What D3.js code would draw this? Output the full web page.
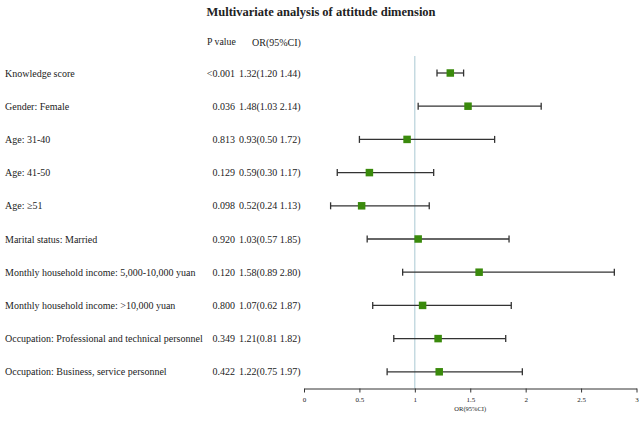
<!DOCTYPE html>
<html>
<head>
<meta charset="utf-8">
<script src="https://cdn.jsdelivr.net/npm/d3@7"></script>
<style>
  body { margin: 0; background: #fff; }
  text { font-family: "Liberation Serif", "Times New Roman", serif; fill: #222; }
</style>
</head>
<body>
<svg id="chart" width="642" height="422"></svg>
<script>
// 变量及结果
const labels = [
  'Knowledge score',
  'Gender: Female',
  'Age: 31-40',
  'Age: 41-50',
  'Age: \u226551',
  'Marital status: Married',
  'Monthly household income: 5,000-10,000 yuan',
  'Monthly household income: >10,000 yuan',
  'Occupation: Professional and technical personnel',
  'Occupation: Business, service personnel'
];
const pValues = ['<0.001', '0.036', '0.813', '0.129', '0.098', '0.920', '0.120', '0.800', '0.349', '0.422'];
const orValues = [1.32, 1.48, 0.93, 0.59, 0.52, 1.03, 1.58, 1.07, 1.21, 1.22];
const lowerCI = [1.20, 1.03, 0.50, 0.30, 0.24, 0.57, 0.89, 0.62, 0.81, 0.75];
const upperCI = [1.44, 2.14, 1.72, 1.17, 1.13, 1.85, 2.80, 1.87, 1.82, 1.97];
const xTicks = [0, 0.5, 1, 1.5, 2, 2.5, 3];

const rows = labels.map((label, i) => ({
  label, p: pValues[i], or: orValues[i], lo: lowerCI[i], hi: upperCI[i]
}));

const svg = d3.select('#chart');

const x = d3.scaleLinear().domain([0, 3]).range([304, 636.5]);
const y = d3.scalePoint().domain(labels).range([73, 371.8]);
const axisY = 388.5;
const fmt = d3.format('.2f');

// 标题
svg.append('text')
  .attr('x', 321).attr('y', 15.5)
  .attr('text-anchor', 'middle')
  .style('font-size', '12.5px')
  .style('font-weight', 'bold')
  .text('Multivariate analysis of attitude dimension');

// 表头
svg.append('text').attr('x', 207).attr('y', 42).attr('dy', '0.35em')
  .style('font-size', '9.8px').text('P value');
svg.append('text').attr('x', 252).attr('y', 42).attr('dy', '0.35em')
  .style('font-size', '10px').text('OR(95%CI)');

// 参考线 OR = 1
svg.append('line')
  .attr('x1', x(1)).attr('x2', x(1))
  .attr('y1', 56).attr('y2', axisY)
  .attr('stroke', '#a9c8d2').attr('stroke-width', 1);

const row = svg.selectAll('g.row').data(rows).join('g').attr('class', 'row')
  .attr('transform', d => `translate(0,${y(d.label)})`);

row.append('text').attr('x', 5).attr('dy', '0.35em')
  .style('font-size', '10px').text(d => d.label);

row.append('text').attr('x', 235).attr('dy', '0.35em')
  .attr('text-anchor', 'end')
  .style('font-size', '10px').text(d => d.p);

row.append('text').attr('x', 239).attr('dy', '0.35em')
  .style('font-size', '10px')
  .text(d => `${fmt(d.or)}(${fmt(d.lo)} ${fmt(d.hi)})`);

// 置信区间
row.append('line')
  .attr('x1', d => x(d.lo)).attr('x2', d => x(d.hi))
  .attr('stroke', '#333').attr('stroke-width', 1.3);
row.append('line')
  .attr('x1', d => x(d.lo)).attr('x2', d => x(d.lo))
  .attr('y1', -3.5).attr('y2', 3.5)
  .attr('stroke', '#333').attr('stroke-width', 1.3);
row.append('line')
  .attr('x1', d => x(d.hi)).attr('x2', d => x(d.hi))
  .attr('y1', -3.5).attr('y2', 3.5)
  .attr('stroke', '#333').attr('stroke-width', 1.3);

// 点估计
const sq = 7.5;
row.append('rect')
  .attr('x', d => x(d.or) - sq / 2).attr('y', -sq / 2)
  .attr('width', sq).attr('height', sq)
  .attr('fill', '#3a8a0c');

// 横轴
const axis = svg.append('g')
  .attr('transform', `translate(0,${axisY})`)
  .call(d3.axisBottom(x).tickValues(xTicks).tickFormat(d3.format('')).tickSize(4).tickSizeOuter(0).tickPadding(5));
axis.select('.domain').attr('stroke', '#333');
axis.selectAll('.tick line').attr('stroke', '#333');
axis.selectAll('.tick text')
  .style('font-family', '"Liberation Serif", serif')
  .style('font-size', '7px').attr('fill', '#333');

svg.append('text')
  .attr('x', (x(0) + x(3)) / 2).attr('y', 409).attr('dy', '0.35em')
  .attr('text-anchor', 'middle')
  .style('font-size', '6.5px')
  .text('OR(95%CI)');
</script>
</body>
</html>
